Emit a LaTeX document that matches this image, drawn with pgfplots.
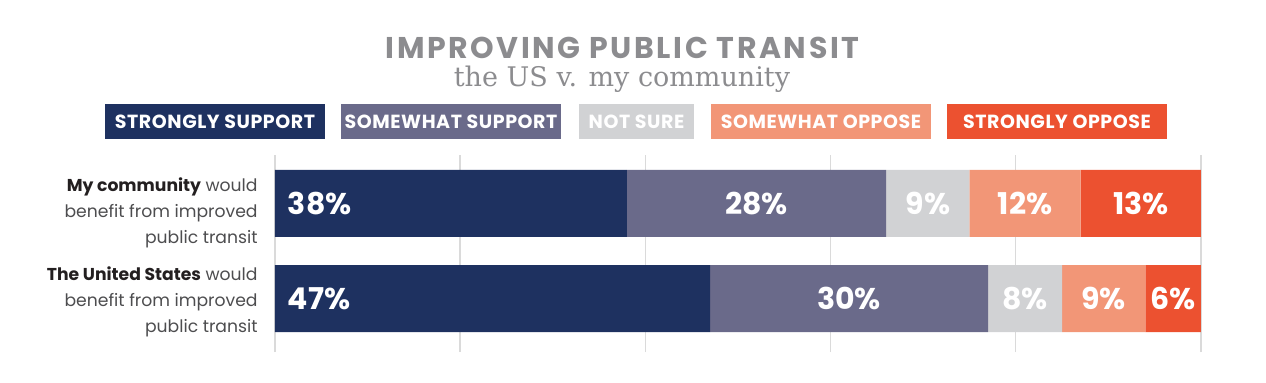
\documentclass[border=0pt]{standalone}
\usepackage{pgfplots}
\pgfplotsset{compat=1.18}
\usepackage{fontspec}
\setmainfont{Poppins}
\newfontfamily\titlefont{Poppins}[LetterSpace=8.5]
\newfontfamily\legfont{Poppins}[LetterSpace=3]
\newfontfamily\serifgray{DejaVu Serif}
\definecolor{c1}{HTML}{1E3160}
\definecolor{c2}{HTML}{6A6A8A}
\definecolor{c3}{HTML}{D1D2D4}
\definecolor{c4}{HTML}{F29677}
\definecolor{c5}{HTML}{EC5130}
\definecolor{titlegray}{HTML}{8C8C8F}
\definecolor{gridc}{HTML}{DADADA}
\definecolor{labdark}{HTML}{231F20}
\definecolor{labgray}{HTML}{4D4D4F}
% segment width = value * 4.63pt (axis is 463pt wide for 0..100)
\newcommand\segwidth{\pgfkeys{/pgf/fpu=true,/pgf/fpu/output format=fixed}\pgfmathsetmacro\segv{\pgfplotspointmeta*4.63}\pgfkeys{/pgf/fpu=false}}
\newcommand\seglabc{\pgfmathprintnumber{\pgfplotspointmeta}\%}
\newcommand\seglabl{\segwidth\makebox[\segv pt][l]{\hspace{6.5pt}\pgfmathprintnumber{\pgfplotspointmeta}\%}}
\begin{document}
\begin{tikzpicture}
\begin{axis}[
  at={(0,0)}, anchor=south west,
  scale only axis, width=463pt, height=98.5pt,
  xbar stacked, bar width=33.5pt,
  xmin=0, xmax=100, ymin=-0.563, ymax=1.51,
  axis line style={draw=none},
  tick style={draw=none},
  xtick={0,20,...,100}, xticklabels={},
  xmajorgrids, grid style={gridc, line width=0.7pt},
  ytick={-0.032,0.905},
  yticklabels={{\textbf{\color{labdark}The United States} would\\benefit from improved\\public transit},
               {\textbf{\color{labdark}My community} would\\benefit from improved\\public transit}},
  yticklabel style={align=right, font=\fontsize{8.6}{13}\selectfont, text=labgray, inner sep=0pt, xshift=-8.5pt},
  /pgf/number format/assume math mode=true,
  point meta=rawx,
  every node near coord/.append style={anchor=center, inner sep=0pt, font=\fontsize{15}{15}\selectfont\bfseries, text=white},
]
\addplot[fill=c1, draw=none, nodes near coords=\seglabl] coordinates {(47,0) (38,1)};
\addplot[fill=c2, draw=none, nodes near coords=\seglabc] coordinates {(30,0) (28,1)};
\addplot[fill=c3, draw=none, nodes near coords=\seglabc] coordinates {(8,0) (9,1)};
\addplot[fill=c4, draw=none, nodes near coords=\seglabc] coordinates {(9,0) (12,1)};
\addplot[fill=c5, draw=none, nodes near coords=\seglabc] coordinates {(6,0) (13,1)};
\end{axis}
\begin{scope}[shift={(-137.5pt,176pt)}, x=0.5pt, y=-0.5pt]
  \node[anchor=base, text=titlegray, font=\fontsize{15}{15}\titlefont\bfseries] at (622.5,58) {IMPROVING PUBLIC TRANSIT};
  \node[anchor=base, text=titlegray, font=\fontsize{13.5}{13.5}\serifgray] at (622,86) {the US v. my community};
  \tikzset{lg/.style={minimum height=17.5pt, inner sep=0pt, text=white, font=\fontsize{9.5}{9.5}\legfont\bfseries}}
  \node[lg, fill=c1, minimum width=110pt] at (215,121.5) {STRONGLY SUPPORT};
  \node[lg, fill=c2, minimum width=110pt] at (451,121.5) {SOMEWHAT SUPPORT};
  \node[lg, fill=c3, minimum width=57.5pt] at (636.5,121.5) {NOT SURE};
  \node[lg, fill=c4, minimum width=110pt] at (821,121.5) {SOMEWHAT OPPOSE};
  \node[lg, fill=c5, minimum width=110pt] at (1057,121.5) {STRONGLY OPPOSE};
  \pgfresetboundingbox
  \path (0,0) rectangle (1266,382);
\end{scope}
\end{tikzpicture}
\end{document}
